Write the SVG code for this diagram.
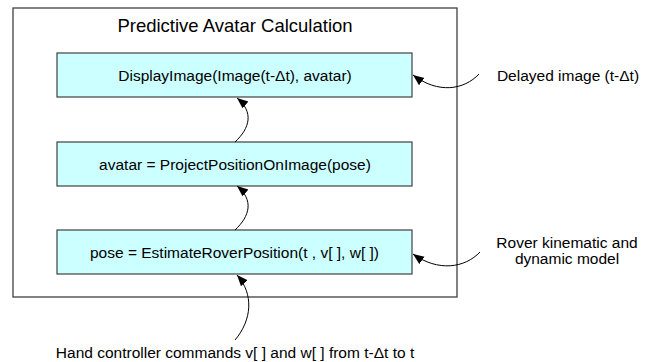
<svg xmlns="http://www.w3.org/2000/svg" width="657" height="362" viewBox="0 0 657 362">
<style>
text{font-family:"Liberation Sans",Arial,sans-serif;fill:#000}
.box{fill:#ccffff;stroke:#404040;stroke-width:1.2}
.frame{fill:#fff;stroke:#404040;stroke-width:1.3}
.lbl{font-size:15.5px;text-anchor:middle}
.side{font-size:15.5px;text-anchor:middle}
.conn{fill:none;stroke:#000;stroke-width:1}
</style>
<defs>
<marker id="ah" markerUnits="userSpaceOnUse" markerWidth="12" markerHeight="10" refX="11" refY="4.5" orient="auto">
<path d="M0,0 L11,4.5 L0,9 z" fill="#000"/>
</marker>
</defs>
<rect width="657" height="362" fill="#fff"/>
<g id="frame">
<rect class="frame" x="13" y="8" width="444" height="289"/>
<text x="235" y="32" font-size="18.5" text-anchor="middle">Predictive Avatar Calculation</text>
</g>
<g id="display">
<rect class="box" x="57" y="53" width="355" height="44"/>
<text class="lbl" x="235" y="80.5">DisplayImage(Image(t-Δt), avatar)</text>
</g>
<g id="project">
<rect class="box" x="57" y="142" width="355" height="44"/>
<text class="lbl" x="235" y="169.5">avatar = ProjectPositionOnImage(pose)</text>
</g>
<g id="estimate">
<rect class="box" x="57" y="230" width="355" height="44"/>
<text class="lbl" x="234.5" y="257.5">pose = EstimateRoverPosition(t , v[ ], w[ ])</text>
</g>
<g id="delayed">
<text class="side" x="568" y="81">Delayed image (t-Δt)</text>
</g>
<g id="rover">
<text class="side" x="567" y="248">Rover kinematic and</text>
<text class="side" x="567" y="264">dynamic model</text>
</g>
<g id="hand">
<text class="lbl" x="235" y="357.5">Hand controller commands v[ ] and w[ ] from t-Δt to t</text>
</g>
<g id="connectors">
<path class="conn" marker-end="url(#ah)" d="M235,142 C250,128 254,112 237,98"/>
<path class="conn" marker-end="url(#ah)" d="M235,230 C250,216 254,200 237,186"/>
<path class="conn" marker-end="url(#ah)" d="M235,340 C252,320 254,294 237,275"/>
<path class="conn" marker-end="url(#ah)" d="M479,74 C464,90 438,94 413,75"/>
<path class="conn" marker-end="url(#ah)" d="M480,252 C465,268 438,272 413,254"/>
</g>
</svg>
